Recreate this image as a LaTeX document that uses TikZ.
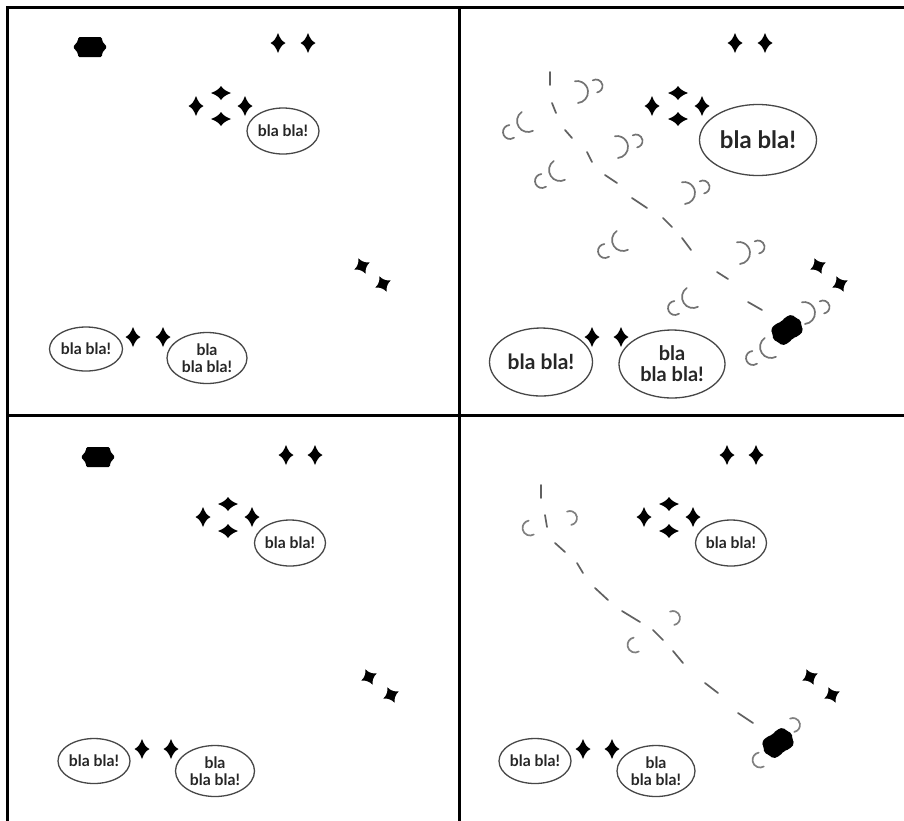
\documentclass[tikz,border=0pt]{standalone}
\usepackage{fontspec}
\setmainfont{Lato}
\usetikzlibrary{shapes.geometric}
\tikzset{
  frameline/.style={line width=3pt, black, line cap=rect},
  bubble/.style={ellipse, draw=black!72, line width=1.3pt, inner sep=0pt, align=center, text=black!85},
  sbub/.style={bubble, font=\bfseries\fontsize{15.8}{16.5}\selectfont},
  dashseg/.style={draw=black!62, line width=1.7pt, line cap=round},
  parc/.style={draw=black!55, line width=1.7pt, line cap=round},
  starv/.pic={\fill[y=1pt] (0,10) .. controls (2.2,4.2) and (3.6,2.2) .. (7.5,0) .. controls (3.6,-2.2) and (2.2,-4.2) .. (0,-10) .. controls (-2.2,-4.2) and (-3.6,-2.2) .. (-7.5,0) .. controls (-3.6,2.2) and (-2.2,4.2) .. (0,10) -- cycle;},
  starh/.pic={\fill[y=1pt] (0,7) .. controls (2.4,3.6) and (4.4,2.2) .. (10,0) .. controls (4.4,-2.2) and (2.4,-3.6) .. (0,-7) .. controls (-2.4,-3.6) and (-4.4,-2.2) .. (-10,0) .. controls (-4.4,2.2) and (-2.4,3.6) .. (0,7) -- cycle;},
  startilt/.pic={\fill[y=1pt, rotate=25] (0,8.5) .. controls (1.6,4) and (4,1.6) .. (8.5,0) .. controls (4,-1.6) and (1.6,-4) .. (0,-8.5) .. controls (-1.6,-4) and (-4,-1.6) .. (-8.5,0) .. controls (-4,1.6) and (-1.6,4) .. (0,8.5) -- cycle;
                 \fill[y=1pt, rotate=25] (-3.3,-3.3) rectangle (3.3,3.3);},
  blob/.pic={\fill[y=1pt, rounded corners=1.5pt] (-12,10) -- (12,10) -- (12,6) -- (17,0) -- (12,-6) -- (12,-10) -- (-12,-10) -- (-12,-6) -- (-17,0) -- (-12,6) -- cycle;},
  blobt/.pic={\fill[y=1pt, rotate=35, rounded corners=2pt] (-13,10) -- (-6,11.5) -- (0,10) -- (6,11.5) -- (13,10) -- (14,5) -- (17,0) -- (14,-5) -- (13,-10) -- (6,-11.5) -- (0,-10) -- (-6,-11.5) -- (-13,-10) -- (-14,-5) -- (-17,0) -- (-14,5) -- cycle;},
  lpair/.pic={\draw[y=1pt, parc] (124:11) arc[start angle=124, end angle=297, radius=11pt];
              \draw[y=1pt, parc] ([shift={(95:7)}]-18,-11) arc[start angle=95, end angle=305, radius=7pt];},
  rpair/.pic={\draw[y=1pt, parc] (-85:11) arc[start angle=-85, end angle=101, radius=11pt];
              \draw[y=1pt, parc] ([shift={(-80:6.5)}]19,6) arc[start angle=-80, end angle=120, radius=6.5pt];},
  lone/.pic={\draw[y=1pt, parc, draw=black!50] (100:7.5) arc[start angle=100, end angle=300, radius=7.5pt];},
  rone/.pic={\draw[y=1pt, parc, draw=black!50] (-80:7) arc[start angle=-80, end angle=115, radius=7pt];}
}
\begin{document}
\begin{tikzpicture}[x=1pt, y=-1pt]
\useasboundingbox (0,0) rectangle (904,820);
\fill[white] (0,0) rectangle (904,820);

% ---------- frame ----------
\draw[frameline] (7,820) -- (7,7) -- (904,7);
\draw[frameline] (459,7) -- (459,820);
\draw[frameline] (7,415) -- (904,415);

% ---------- panel 1 (top left) ----------
\node[sbub, minimum width=72pt, minimum height=46pt] (p1a) at (283,131) {bla bla!};
\node[sbub, minimum width=73pt, minimum height=44pt] (p1b) at (86,349) {bla bla!};
\node[sbub, minimum width=80pt, minimum height=51pt] (p1c) at (207,358) {bla\\bla bla!};
\pic at (90,47) {blob};
\pic at (278,43) {starv}; \pic at (308,43) {starv};
\pic at (196,106) {starv}; \pic at (245,106) {starv};
\pic at (221,93) {starh}; \pic at (221,119) {starh};
\pic at (133,337) {starv}; \pic at (163,337) {starv};
\pic at (362,266) {startilt}; \pic at (383,284) {startilt};

% ---------- panel 2 (top right) ----------
\foreach \ax/\ay/\bx/\by in {550/72/550/85, 552/103/556/113, 565/130/572/138, 587/152/592/162,
  605/175/617/183, 632/198/647/208, 663/218/672/227, 682/238/691/250, 717/272/728/279, 748/302/762/310}
  \draw[dashseg] (\ax,\ay) -- (\bx,\by);
\foreach \cx/\cy in {528/121, 560/170, 623/240, 693/297, 771/347}
  \pic at (\cx,\cy) {lpair};
\foreach \cx/\cy in {577/92, 617/147, 684/193, 739/253, 804/313}
  \pic at (\cx,\cy) {rpair};
\node[bubble, minimum width=117pt, minimum height=71pt, font=\bfseries\fontsize{24}{26}\selectfont] (p2a) at (758,140) {bla bla!};
\node[bubble, minimum width=103pt, minimum height=68pt, font=\bfseries\fontsize{21}{23}\selectfont] (p2b) at (541,362) {bla bla!};
\node[bubble, minimum width=106pt, minimum height=68pt, font=\bfseries\fontsize{20}{21}\selectfont] (p2c) at (672,364) {bla\\bla bla!};
\pic at (787,330) {blobt};
\pic at (735,43) {starv}; \pic at (765,43) {starv};
\pic at (652,106) {starv}; \pic at (702,106) {starv};
\pic at (678,93) {starh}; \pic at (678,119) {starh};
\pic at (592,337) {starv}; \pic at (621,337) {starv};
\pic at (818,266) {startilt}; \pic at (840,284) {startilt};

% ---------- panel 3 (bottom left) ----------
\node[sbub, minimum width=71pt, minimum height=46pt] (p3a) at (290,543) {bla bla!};
\node[sbub, minimum width=72pt, minimum height=45pt] (p3b) at (94,761) {bla bla!};
\node[sbub, minimum width=79pt, minimum height=51pt] (p3c) at (215,771) {bla\\bla bla!};
\pic at (98,457) {blob};
\pic at (286,455) {starv}; \pic at (315,455) {starv};
\pic at (203,517) {starv}; \pic at (252,517) {starv};
\pic at (228,504) {starh}; \pic at (228,531) {starh};
\pic at (142,749) {starv}; \pic at (171,749) {starv};
\pic at (369,677) {startilt}; \pic at (391,695) {startilt};

% ---------- panel 4 (bottom right) ----------
\foreach \ax/\ay/\bx/\by in {541/485/541/498, 545/515/547/527, 555/543/565/552, 577/563/583/573,
  595/588/608/600, 622/611/640/622, 653/630/663/640, 673/651/683/663, 705/683/718/693, 738/713/753/723}
  \draw[dashseg] (\ax,\ay) -- (\bx,\by);
\foreach \cx/\cy in {530/528, 635/645, 760/760}
  \pic at (\cx,\cy) {lone};
\foreach \cx/\cy in {570/518, 673/618, 793/725}
  \pic at (\cx,\cy) {rone};
\node[sbub, minimum width=71pt, minimum height=46pt] (p4a) at (731,543) {bla bla!};
\node[sbub, minimum width=72pt, minimum height=45pt] (p4b) at (535,761) {bla bla!};
\node[sbub, minimum width=78pt, minimum height=51pt] (p4c) at (656,771) {bla\\bla bla!};
\pic at (778,743) {blobt};
\pic at (727,455) {starv}; \pic at (756,455) {starv};
\pic at (644,517) {starv}; \pic at (693,517) {starv};
\pic at (669,504) {starh}; \pic at (669,531) {starh};
\pic at (583,749) {starv}; \pic at (612,749) {starv};
\pic at (810,677) {startilt}; \pic at (832,695) {startilt};
\end{tikzpicture}
\end{document}
